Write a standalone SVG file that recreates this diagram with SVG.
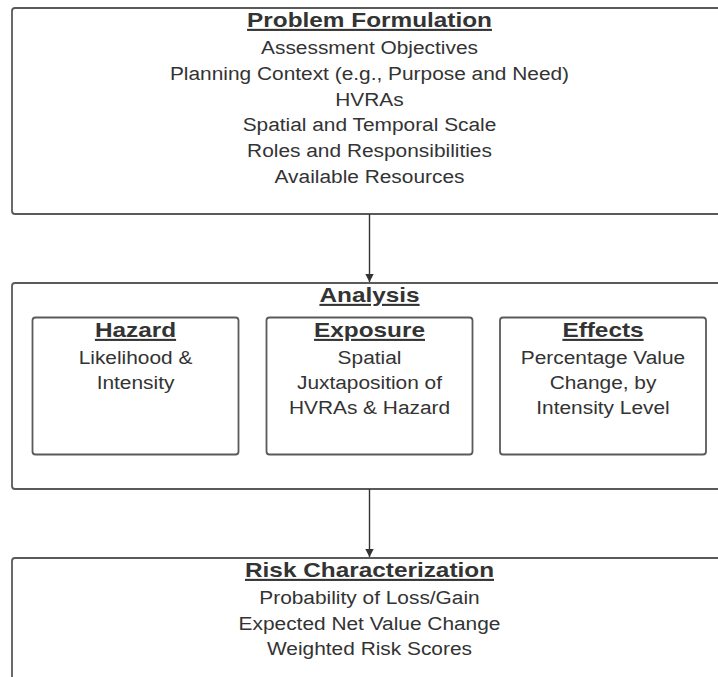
<svg xmlns="http://www.w3.org/2000/svg" width="718" height="677" viewBox="0 0 718 677">
<style>
.box{fill:#ffffff;stroke:#5a5a5a;stroke-width:1.8}
.t{font-family:"Liberation Sans",Arial,sans-serif;fill:#333333;text-anchor:middle}
.h{font-size:21px;font-weight:bold;text-decoration:underline}
.b{font-size:18px}
.con{stroke:#333333;stroke-width:1.4;fill:none}
</style>
<defs>
<marker id="arr" markerWidth="10" markerHeight="10" refX="8" refY="5" orient="auto" markerUnits="userSpaceOnUse">
<path d="M0,0.8 L8,5 L0,9.2 Z" fill="#333333"/>
</marker>
</defs>
<rect width="718" height="677" fill="#ffffff"/>
<g id="problem-formulation">
<rect class="box" x="12" y="8" width="716" height="206" rx="3"/>
<g class="t" transform="translate(369.5,0) scale(1.16,1)">
<text class="h" x="0" y="27">Problem Formulation</text>
<text class="b" x="0" y="54">Assessment Objectives</text>
<text class="b" x="0" y="80">Planning Context (e.g., Purpose and Need)</text>
<text class="b" x="0" y="106">HVRAs</text>
<text class="b" x="0" y="131">Spatial and Temporal Scale</text>
<text class="b" x="0" y="157">Roles and Responsibilities</text>
<text class="b" x="0" y="183">Available Resources</text>
</g>
</g>
<g id="analysis">
<rect class="box" x="12" y="283" width="716" height="206" rx="3"/>
<g class="t" transform="translate(369.5,0) scale(1.16,1)">
<text class="h" x="0" y="302">Analysis</text>
</g>
</g>
<g id="hazard">
<rect class="box" x="32.5" y="317.5" width="206" height="137" rx="3"/>
<g class="t" transform="translate(135.5,0) scale(1.16,1)">
<text class="h" x="0" y="337">Hazard</text>
<text class="b" x="0" y="364">Likelihood &amp;</text>
<text class="b" x="0" y="389">Intensity</text>
</g>
</g>
<g id="exposure">
<rect class="box" x="266.5" y="317.5" width="206" height="137" rx="3"/>
<g class="t" transform="translate(369.5,0) scale(1.16,1)">
<text class="h" x="0" y="337">Exposure</text>
<text class="b" x="0" y="364">Spatial</text>
<text class="b" x="0" y="389">Juxtaposition of</text>
<text class="b" x="0" y="414">HVRAs &amp; Hazard</text>
</g>
</g>
<g id="effects">
<rect class="box" x="500" y="317.5" width="206" height="137" rx="3"/>
<g class="t" transform="translate(603,0) scale(1.16,1)">
<text class="h" x="0" y="337">Effects</text>
<text class="b" x="0" y="364">Percentage Value</text>
<text class="b" x="0" y="389">Change, by</text>
<text class="b" x="0" y="414">Intensity Level</text>
</g>
</g>
<g id="risk-characterization">
<rect class="box" x="12" y="558" width="716" height="206" rx="3"/>
<g class="t" transform="translate(369.5,0) scale(1.16,1)">
<text class="h" x="0" y="577">Risk Characterization</text>
<text class="b" x="0" y="604">Probability of Loss/Gain</text>
<text class="b" x="0" y="630">Expected Net Value Change</text>
<text class="b" x="0" y="655">Weighted Risk Scores</text>
</g>
</g>
<g id="connectors">
<line class="con" x1="369.5" y1="214" x2="369.5" y2="282" marker-end="url(#arr)"/>
<line class="con" x1="369.5" y1="489" x2="369.5" y2="557" marker-end="url(#arr)"/>
</g>
</svg>
